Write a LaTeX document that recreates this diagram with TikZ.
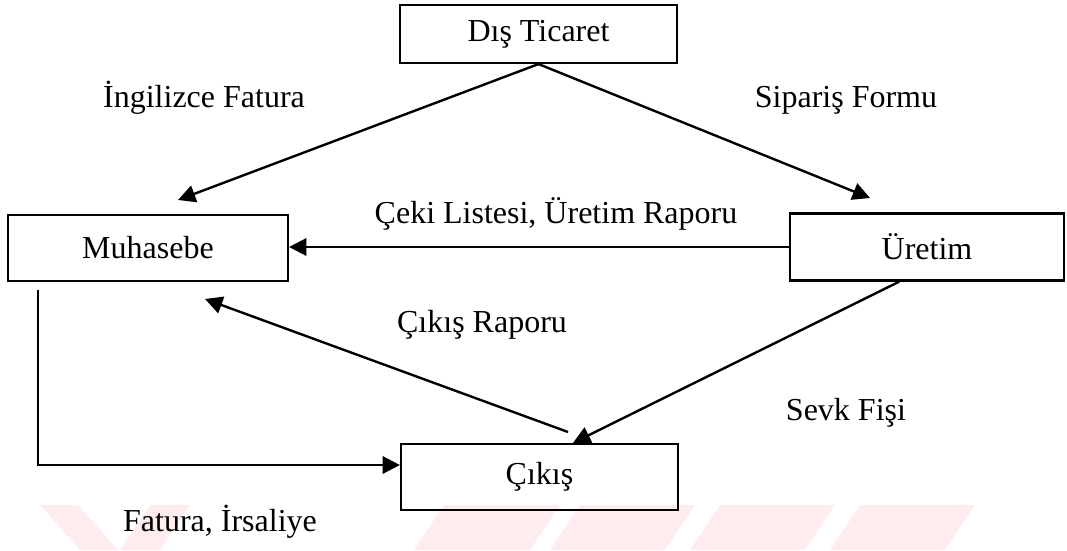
\documentclass[tikz,border=0pt]{standalone}
\usepackage{fontspec}
\setmainfont{Liberation Serif}
\usetikzlibrary{arrows.meta,calc}
\begin{document}
\begin{tikzpicture}[x=0.75pt,y=-0.75pt,
  box/.style={draw, line width=1.6pt, inner sep=0pt, font=\fontsize{24}{28}\selectfont},
  flow/.style={line width=1.8pt, -{Triangle[length=13pt,width=13pt]}},
  lbl/.style={anchor=base, inner sep=0pt, font=\fontsize{24}{28}\selectfont},
  wm/.style={fill={rgb,255:red,254;green,236;blue,238}, draw=none}]

\useasboundingbox (0,0) rectangle (1067,550);

% faint watermark bands along the lower edge
\fill[wm] (40,505) -- (78,505) -- (118,550) -- (80,550) -- cycle;
\fill[wm] (150,505) -- (190,505) -- (160,550) -- (120,550) -- cycle;
\fill[wm] (444,505) -- (560,505) -- (530,550) -- (414,550) -- cycle;
\fill[wm] (580,505) -- (695,505) -- (665,550) -- (550,550) -- cycle;
\fill[wm] (720,505) -- (835,505) -- (805,550) -- (690,550) -- cycle;
\fill[wm] (860,505) -- (975,505) -- (945,550) -- (830,550) -- cycle;

% departments
\node[box, minimum width=207.75pt, minimum height=43.5pt] (dt) at (538.5,34) {Dış Ticaret};
\node[box, minimum width=210pt, minimum height=49.5pt] (mu) at (148,248) {Muhasebe};
\node[box, minimum width=205.5pt, minimum height=50.25pt] (ur) at (927,247) {Üretim};
\node[box, minimum width=207.75pt, minimum height=49.5pt] (ck) at (539.5,477) {Çıkış};

% free ends of the slanted connectors
\coordinate (mutop) at (178,200);
\coordinate (urtop) at (870,198);
\coordinate (mubot) at (205,299);
\coordinate (ckout) at (568,432);
\coordinate (urout) at ($(ur.south west)!0.40!(ur.south east)$);
\coordinate (ckin) at ($(ck.north west)!0.62!(ck.north east)$);
\coordinate (muout) at (38,290);
\coordinate (corner) at (38,465);

% document flows
\draw[flow] (dt.south) -- (mutop);
\draw[flow] (dt.south) -- (urtop);
\draw[flow] (ur.west) -- (ur.west -| mu.east);
\draw[flow] (urout) -- (ckin);
\draw[flow] (ckout) -- (mubot);
\draw[flow] (muout) -- (corner) -- (corner -| ck.west);

% flow labels
\node[lbl] (l1) at (204,107) {İngilizce Fatura};
\node[lbl] (l2) at (846,107) {Sipariş Formu};
\node[lbl] (l3) at (556,223) {Çeki Listesi, Üretim Raporu};
\node[lbl] (l4) at (482,332) {Çıkış Raporu};
\node[lbl] (l5) at (846,420) {Sevk Fişi};
\node[lbl] (l6) at (220,531) {Fatura, İrsaliye};
\end{tikzpicture}
\end{document}
